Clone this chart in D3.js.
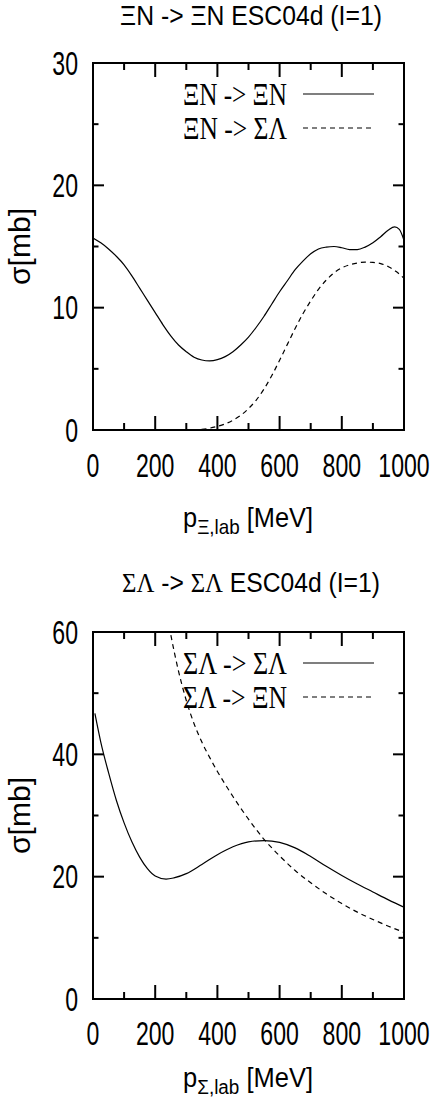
<!DOCTYPE html>
<html>
<head>
<meta charset="utf-8">
<script src="https://cdn.jsdelivr.net/npm/d3@7"></script>
<style>
  body { margin: 0; background: #fff; }
  svg { display: block; }
</style>
</head>
<body>
<div id="chart"></div>
<script>
// --- data ---
const xTicks = [0, 200, 400, 600, 800, 1000]
const xMinor = [100, 300, 500, 700, 900]

// top panel: Xi N (I=1)
const xiTicks = [0, 10, 20, 30]
const xiMinor = [5, 15, 25]
const xiElasticP = [0, 25, 50, 75, 100, 125, 150, 175, 200, 225, 250, 275, 300, 325, 350, 375, 400, 425, 450, 475, 500, 525, 550, 575, 600, 625, 650, 675, 700, 725, 750, 775, 800, 825, 850, 875, 900, 925, 950, 970, 985, 1000]
const xiElasticSigma = [15.7, 15.3, 14.8, 14.2, 13.5, 12.6, 11.6, 10.6, 9.6, 8.6, 7.7, 6.95, 6.4, 5.95, 5.72, 5.65, 5.75, 6.0, 6.4, 6.95, 7.6, 8.4, 9.3, 10.3, 11.3, 12.2, 13.1, 13.8, 14.4, 14.8, 14.95, 15.0, 14.9, 14.75, 14.75, 14.95, 15.3, 15.8, 16.35, 16.6, 16.4, 15.5]
const xiTransP = [320, 350, 375, 400, 425, 450, 475, 500, 525, 550, 575, 600, 625, 650, 675, 700, 725, 750, 775, 800, 825, 850, 875, 900, 925, 950, 975, 1000]
const xiTransSigma = [0, 0.05, 0.15, 0.3, 0.5, 0.8, 1.2, 1.75, 2.45, 3.35, 4.45, 5.7, 7.0, 8.3, 9.5, 10.55, 11.5, 12.25, 12.85, 13.25, 13.5, 13.65, 13.72, 13.7, 13.6, 13.35, 12.95, 12.4]

// bottom panel: Sigma Lambda (I=1)
const saTicks = [0, 20, 40, 60]
const saMinor = [10, 30, 50]
const saElasticP = [6, 25, 50, 75, 100, 125, 150, 175, 200, 235, 260, 300, 350, 400, 450, 500, 550, 600, 650, 700, 750, 800, 850, 900, 950, 1000]
const saElasticSigma = [46.7, 42, 37, 32.5, 28.8, 25.7, 23.2, 21.3, 20.1, 19.6, 19.8, 20.5, 22.0, 23.6, 24.9, 25.7, 25.9, 25.6, 24.7, 23.3, 21.7, 20.2, 18.8, 17.5, 16.2, 15.0]
const saTransP = [240, 250, 275, 300, 325, 350, 375, 400, 425, 450, 475, 500, 525, 550, 575, 600, 650, 700, 750, 800, 850, 900, 950, 1000]
const saTransSigma = [62.4, 59.6, 53.6, 48.8, 45.0, 42.0, 39.5, 37.2, 35.1, 33.1, 31.2, 29.4, 27.7, 26.1, 24.7, 23.4, 21.0, 19.0, 17.2, 15.6, 14.2, 13.0, 11.9, 10.9]

const W = 434, H = 1107
const sans = "'Liberation Sans', Arial, sans-serif"
const serif = "'Liberation Serif', 'Times New Roman', serif"

const svg = d3.select('#chart').append('svg')
    .attr('width', W).attr('height', H)

// squeeze a text group to a given width
function fit(g, width) {
    const w = g.select('text').node().getBBox().width
    const t = g.attr('transform')
    g.attr('transform', t + ` scale(${width / w},1)`)
}

function drawPanel(p) {
    const x = d3.scaleLinear().domain([0, 1000]).range([93, 404])
    const y = d3.scaleLinear().domain([0, p.yMax]).range([p.bottom, p.top])

    const clipId = 'clip' + p.id
    svg.append('clipPath').attr('id', clipId)
        .append('rect')
        .attr('x', x(0)).attr('y', y(p.yMax))
        .attr('width', x(1000) - x(0)).attr('height', y(0) - y(p.yMax))

    // curves
    const line = d3.line()
        .x(d => x(d[0])).y(d => y(d[1]))
        .curve(d3.curveMonotoneX)

    p.curves.forEach(c => {
        svg.append('path')
            .datum(d3.zip(c.x, c.y))
            .attr('clip-path', `url(#${clipId})`)
            .attr('fill', 'none')
            .attr('stroke', '#000')
            .attr('stroke-width', 1.2)
            .attr('stroke-dasharray', c.dash ? '5,4' : null)
            .attr('d', line)
    })

    // frame
    svg.append('rect')
        .attr('x', x(0)).attr('y', y(p.yMax))
        .attr('width', x(1000) - x(0)).attr('height', y(0) - y(p.yMax))
        .attr('fill', 'none').attr('stroke', '#000').attr('stroke-width', 2)

    // ticks on all four sides
    const ticks = svg.append('g').attr('stroke', '#000').attr('stroke-width', 2)
    const xt = xTicks.map(v => [v, 14]).concat(xMinor.map(v => [v, 7]))
    xt.forEach(([v, len]) => {
        ticks.append('line').attr('x1', x(v)).attr('x2', x(v))
            .attr('y1', y(0)).attr('y2', y(0) - len)
        ticks.append('line').attr('x1', x(v)).attr('x2', x(v))
            .attr('y1', y(p.yMax)).attr('y2', y(p.yMax) + len)
    })
    const yt = p.yTicks.map(v => [v, 11]).concat(p.yMinor.map(v => [v, 5.5]))
    yt.forEach(([v, len]) => {
        ticks.append('line').attr('x1', x(0)).attr('x2', x(0) + len)
            .attr('y1', y(v)).attr('y2', y(v))
        ticks.append('line').attr('x1', x(1000)).attr('x2', x(1000) - len)
            .attr('y1', y(v)).attr('y2', y(v))
    })

    // tick labels
    xTicks.forEach(v => {
        svg.append('g')
            .attr('transform', `translate(${x(v)},${y(0) + p.xLabDy}) scale(0.7,1)`)
            .append('text')
            .attr('text-anchor', 'middle')
            .attr('font-family', sans).attr('font-size', 33)
            .text(v)
    })
    p.yTicks.forEach(v => {
        svg.append('g')
            .attr('transform', `translate(78,${y(v) + 11.5}) scale(0.7,1)`)
            .append('text')
            .attr('text-anchor', 'end')
            .attr('font-family', sans).attr('font-size', 33)
            .text(v)
    })

    // title
    const tg = svg.append('g').attr('transform', `translate(251,${p.titleY})`)
    const tt = tg.append('text').attr('text-anchor', 'middle')
        .attr('font-family', sans).attr('font-size', 28)
    p.title.forEach(s => {
        tt.append('tspan').attr('font-family', s.serif ? serif : sans).text(s.t)
    })
    fit(tg, p.titleW)

    // x axis label
    const xg = svg.append('g').attr('transform', `translate(248,${p.xTitleY})`)
    const xl = xg.append('text').attr('text-anchor', 'middle')
        .attr('font-family', sans).attr('font-size', 27)
    xl.append('tspan').text('p')
    xl.append('tspan').attr('font-size', 20).attr('dy', 7).text(p.sub)
    xl.append('tspan').attr('dy', -7).text(' [MeV]')
    fit(xg, 130)

    // y axis label
    const yg = svg.append('g')
        .attr('transform', `translate(30,${(p.top + p.bottom) / 2}) rotate(-90)`)
    yg.append('text').attr('text-anchor', 'middle')
        .attr('font-family', sans).attr('font-size', 29)
        .text('σ[mb]')
    fit(yg, 77)

    // legend
    p.legend.forEach((lab, i) => {
        const by = p.top + 42 + i * 34
        const lg = svg.append('g').attr('transform', `translate(287,${by})`)
        lg.append('text').attr('text-anchor', 'end')
            .attr('font-family', serif).attr('font-size', 32)
            .text(lab)
        fit(lg, 104)
        svg.append('line')
            .attr('x1', 303).attr('x2', 374)
            .attr('y1', by - 11).attr('y2', by - 11)
            .attr('stroke', '#000').attr('stroke-width', 1.2)
            .attr('stroke-dasharray', i === 1 ? '5,4' : null)
    })
}

drawPanel({
    id: 'xi', top: 63, bottom: 430, yMax: 30,
    yTicks: xiTicks, yMinor: xiMinor,
    xLabDy: 47, titleY: 25, titleW: 262, xTitleY: 527,
    title: [{ t: 'ΞN -> ΞN ESC04d (I=1)' }],
    sub: 'Ξ,lab',
    legend: ['ΞN -> ΞN', 'ΞN -> ΣΛ'],
    curves: [
        { x: xiElasticP, y: xiElasticSigma },
        { x: xiTransP, y: xiTransSigma, dash: true }
    ]
})

drawPanel({
    id: 'sa', top: 632, bottom: 999, yMax: 60,
    yTicks: saTicks, yMinor: saMinor,
    xLabDy: 46, titleY: 592, titleW: 258, xTitleY: 1087,
    title: [{ t: 'ΣΛ', serif: true }, { t: ' -> ' }, { t: 'ΣΛ', serif: true }, { t: ' ESC04d (I=1)' }],
    sub: 'Σ,lab',
    legend: ['ΣΛ -> ΣΛ', 'ΣΛ -> ΞN'],
    curves: [
        { x: saElasticP, y: saElasticSigma },
        { x: saTransP, y: saTransSigma, dash: true }
    ]
})
</script>
</body>
</html>
